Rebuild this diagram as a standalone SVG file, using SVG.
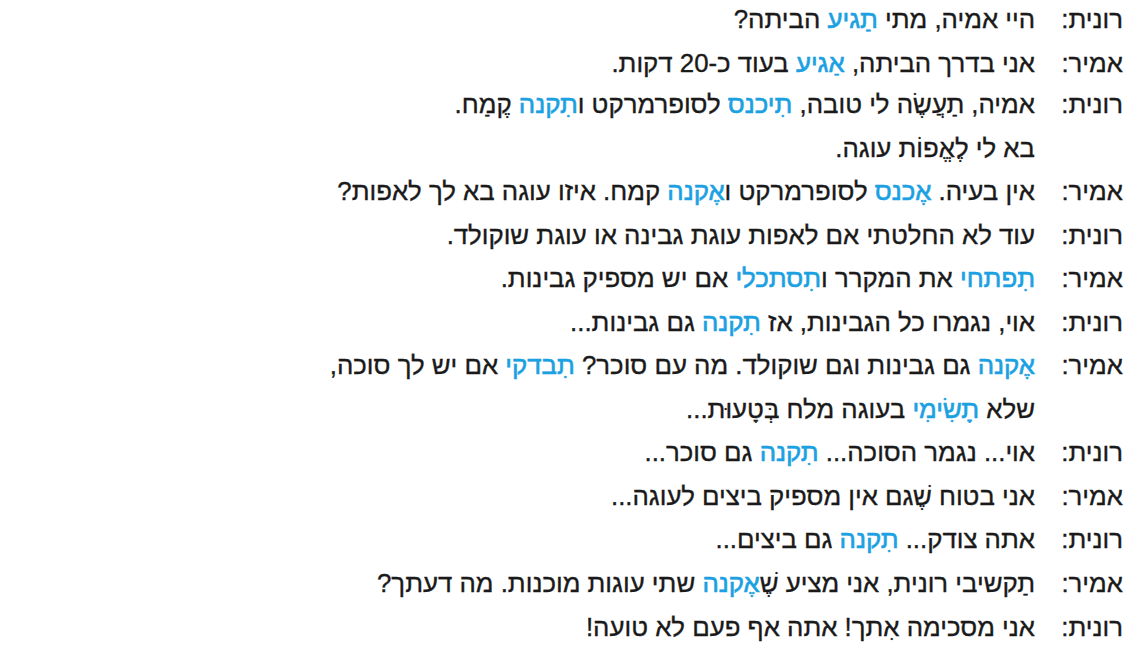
<svg xmlns="http://www.w3.org/2000/svg" width="1124" height="650" viewBox="0 0 1124 650">
<style>
text{font-family:"Liberation Sans","DejaVu Sans",sans-serif;font-size:25.8px;fill:#1a1a1a;stroke:#1a1a1a;stroke-width:0.35;direction:rtl;unicode-bidi:embed}
.b{fill:#1ba1e2;stroke:#1ba1e2;stroke-width:0.6}
</style>
<rect width="1124" height="650" fill="#fff"/>
<g id="speakers">
<text x="1123" y="28">רונית:</text>
<text x="1123" y="72">אמיר:</text>
<text x="1123" y="113">רונית:</text>
<text x="1123" y="200">אמיר:</text>
<text x="1123" y="244">רונית:</text>
<text x="1123" y="287">אמיר:</text>
<text x="1123" y="331">רונית:</text>
<text x="1123" y="374">אמיר:</text>
<text x="1123" y="461">רונית:</text>
<text x="1123" y="505">אמיר:</text>
<text x="1123" y="548">רונית:</text>
<text x="1123" y="592">אמיר:</text>
<text x="1123" y="636">רונית:</text>
</g>
<g id="lines">
<text x="1035" y="28">היי אמיה, מתי <tspan class="b">תַגיע</tspan> הביתה?</text>
<text x="1035" y="72">אני בדרך הביתה, <tspan class="b">אַגיע</tspan> בעוד כ-20 דקות.</text>
<text x="1035" y="113">אמיה, תַעֲשֶׂה לי טובה, <tspan class="b">תִיכנס</tspan> לסופרמרקט ו<tspan class="b">תִקנה</tspan> קֶמַח.</text>
<text x="1035" y="157">בא לי לֶאֱפוֹת עוגה.</text>
<text x="1035" y="200">אין בעיה. <tspan class="b">אֶכנס</tspan> לסופרמרקט ו<tspan class="b">אֶקנה</tspan> קמח. איזו עוגה בא לך לאפות?</text>
<text x="1035" y="244">עוד לא החלטתי אם לאפות עוגת גבינה או עוגת שוקולד.</text>
<text x="1035" y="287"><tspan class="b">תִפתחי</tspan> את  המקרר ו<tspan class="b">תִסתכלי</tspan> אם יש מספיק גבינות.</text>
<text x="1035" y="331">אוי, נגמרו כל הגבינות, אז <tspan class="b">תִקנה</tspan> גם גבינות...</text>
<text x="1035" y="374"><tspan class="b">אֶקנה</tspan> גם גבינות וגם שוקולד. מה עם סוכר? <tspan class="b">תִבדקי</tspan> אם יש לך סוכה,</text>
<text x="1035" y="418">שלא <tspan class="b">תָשִׂימִי</tspan> בעוגה מלח בְּטָעוּת...</text>
<text x="1035" y="461">אוי... נגמר הסוכה... <tspan class="b">תִקנה</tspan> גם סוכר...</text>
<text x="1035" y="505">אני בטוח שֶׁגם אין מספיק ביצים לעוגה...</text>
<text x="1035" y="548">אתה צודק... <tspan class="b">תִקנה</tspan> גם ביצים...</text>
<text x="1035" y="592">תַקשיבי רונית, אני מציע שֶׁ<tspan class="b">אֶקנה</tspan> שתי עוגות מוכנות. מה דעתך?</text>
<text x="1035" y="636">אני מסכימה אִתך! אתה אף פעם לא טועה!</text>
</g>
</svg>
